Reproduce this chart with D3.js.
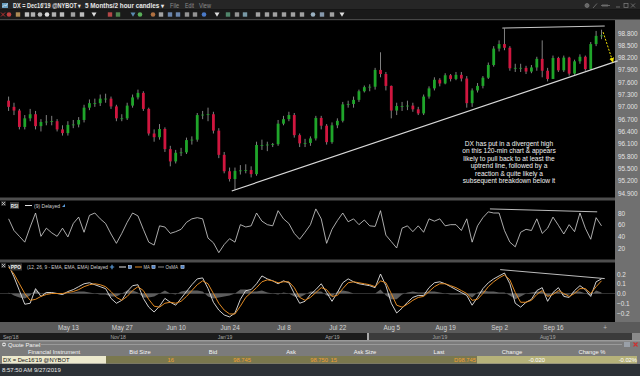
<!DOCTYPE html>
<meta charset="utf-8">
<script src="https://d3js.org/d3.v7.min.js"></script>
<style>
  body { margin: 0; background: #000; overflow: hidden; }
  svg { display: block; font-family: "Liberation Sans", Arial, sans-serif; }
</style>
<div id="my_chart"></div>
<script>
// DX Dec'19, one candle per trading day Apr 26 .. Sep 27 2019 (open = prior close)
const firstOpen = 97.15
const closes = [97.00,96.91,96.51,96.72,96.82,96.53,96.63,96.64,96.65,96.45,
  96.36,96.56,96.57,96.68,96.98,97.09,97.09,97.20,97.20,97.01,
  96.72,96.72,97.03,97.23,97.34,96.95,96.35,96.26,96.46,95.97,
  95.67,95.88,95.89,96.19,96.20,96.80,96.81,96.82,96.42,95.83,
  95.43,95.24,95.44,95.45,95.46,95.36,96.07,96.07,96.08,96.09,
  96.59,96.70,96.80,96.31,96.11,96.12,96.23,96.73,96.54,96.14,
  96.55,96.66,97.06,97.07,97.17,97.38,97.48,97.49,97.90,97.80,
  97.51,96.91,97.02,97.02,97.03,96.94,96.84,97.25,97.45,97.66,
  97.57,97.77,97.68,97.78,97.69,97.09,97.40,97.51,97.71,98.02,
  98.42,98.53,98.44,97.94,97.95,97.95,97.86,97.96,98.17,97.88,
  97.68,98.19,97.89,98.20,97.81,98.11,98.22,97.92,98.53,98.73,
  98.74]
const highs = [97.25,97.10,96.95,96.80,96.95,96.90,96.70,96.80,96.78,96.70,
  96.55,96.65,96.68,96.75,97.05,97.18,97.20,97.30,97.32,97.25,
  97.05,96.82,97.10,97.30,97.42,97.38,96.98,96.45,96.58,96.50,
  96.05,95.95,96.00,96.25,96.28,96.85,96.90,96.98,96.88,96.48,
  95.90,95.52,95.52,95.58,95.60,95.55,96.15,96.20,96.15,96.12,
  96.68,96.78,96.88,96.85,96.35,96.22,96.28,96.78,96.78,96.58,
  96.62,96.72,97.12,97.15,97.25,97.42,97.52,97.55,97.95,98.33,
  97.85,97.52,97.10,97.12,97.15,97.10,97.00,97.30,97.50,97.72,
  97.70,97.82,97.80,97.85,97.85,97.75,97.45,97.58,97.75,98.08,
  98.48,98.62,98.91,98.48,98.05,98.05,98.00,98.02,98.22,98.62,
  97.95,98.25,98.22,98.25,98.22,98.15,98.28,98.25,98.58,98.85,
  98.88]
const lows = [96.90,96.80,96.45,96.45,96.65,96.45,96.40,96.55,96.55,96.40,
  96.30,96.30,96.48,96.50,96.62,96.92,97.00,97.02,97.10,96.95,
  96.65,96.65,96.68,96.98,97.18,96.90,96.30,96.15,96.20,95.90,
  95.55,95.62,95.80,95.85,96.08,96.15,96.70,96.65,96.35,95.75,
  95.38,95.18,94.98,95.35,95.38,95.28,95.32,95.95,95.92,96.02,
  96.05,96.55,96.65,96.25,96.02,96.02,96.05,96.18,96.45,96.08,
  96.10,96.48,96.62,96.98,96.98,97.12,97.35,97.38,97.42,97.72,
  97.40,96.72,96.80,96.90,96.92,96.88,96.80,96.80,97.20,97.40,
  97.50,97.55,97.62,97.65,97.62,96.98,97.00,97.35,97.45,97.68,
  97.98,98.35,98.38,97.88,97.85,97.85,97.80,97.82,97.88,97.72,
  97.62,97.68,97.85,97.85,97.76,97.78,98.05,97.88,97.90,98.48,
  98.65]

const rsi9 = [70,50,40,30,56,80,40,54,46,40,
  54,39,62,73,47,76,80,70,62,44,
  28,45,64,80,75,52,30,25,58,56,
  45,48,52,64,70,72,70,37,29,12,
  26,36,30,60,56,58,80,66,60,58,
  84,70,62,45,35,47,60,87,70,28,
  52,67,80,65,70,60,68,58,57,84,
  42,31,20,54,58,48,58,47,70,66,
  70,58,60,60,50,70,30,58,72,82,
  80,80,50,30,22,47,52,50,70,45,
  54,73,59,44,60,48,80,54,35,72,
  58]

const ppoLine = [0.29,0.17,0.03,-0.11,-0.10,0.05,-0.03,0.01,0.01,0.00,
  -0.01,0.02,0.04,0.07,0.10,0.11,0.09,0.07,0.05,-0.05,
  -0.10,-0.07,0.02,0.08,0.09,-0.05,-0.14,-0.19,-0.13,-0.05,
  -0.09,-0.12,-0.05,0.02,0.09,0.15,0.16,0.05,-0.09,-0.17,
  -0.22,-0.24,-0.20,-0.06,0.03,0.04,0.10,0.18,0.15,0.13,
  0.10,0.13,0.11,0.00,-0.10,-0.08,-0.01,0.04,0.10,0.01,
  -0.08,0.01,0.11,0.15,0.12,0.10,0.09,0.08,0.06,0.20,
  0.08,-0.10,-0.20,-0.15,-0.09,-0.04,-0.02,-0.02,0.06,0.11,
  0.12,0.10,0.07,0.04,0.01,-0.02,-0.12,-0.04,0.05,0.11,
  0.15,0.18,0.21,0.10,-0.10,-0.14,-0.09,-0.06,0.03,0.06,
  -0.08,0.01,0.06,-0.03,-0.04,0.03,0.08,0.04,-0.03,0.12,
  0.15]
const ppoMA = [0.27,0.20,0.10,0.00,-0.07,-0.06,-0.03,-0.01,0.00,0.00,
  0.00,0.01,0.02,0.04,0.07,0.09,0.10,0.09,0.07,0.02,
  -0.04,-0.07,-0.03,0.03,0.07,0.03,-0.06,-0.13,-0.14,-0.10,
  -0.09,-0.10,-0.08,-0.03,0.03,0.09,0.13,0.10,0.00,-0.10,
  -0.17,-0.21,-0.21,-0.13,-0.04,0.01,0.06,0.12,0.14,0.13,
  0.11,0.12,0.12,0.06,-0.04,-0.07,-0.04,0.01,0.06,0.04,
  -0.03,-0.02,0.05,0.11,0.12,0.11,0.10,0.09,0.07,0.13,
  0.11,0.00,-0.12,-0.14,-0.11,-0.07,-0.04,-0.03,0.02,0.07,
  0.10,0.10,0.08,0.06,0.03,0.00,-0.07,-0.06,0.00,0.07,
  0.12,0.16,0.19,0.14,0.01,-0.09,-0.09,-0.07,-0.01,0.03,
  -0.03,-0.01,0.03,0.00,-0.03,0.00,0.05,0.05,0.00,0.07,
  0.13]
const ppoOsma = [0.01,-0.02,-0.04,-0.05,-0.02,0.04,0.00,0.01,0.00,0.00,
  -0.01,0.00,0.01,0.02,0.02,0.01,0.00,-0.01,-0.01,-0.03,
  -0.03,0.00,0.03,0.03,0.01,-0.04,-0.04,-0.03,0.00,0.03,
  0.00,-0.01,0.02,0.03,0.03,0.03,0.02,-0.03,-0.05,-0.04,
  -0.03,-0.02,0.00,0.04,0.04,0.02,0.02,0.03,0.01,0.00,
  -0.01,0.01,0.00,-0.03,-0.04,-0.01,0.02,0.02,0.02,-0.02,
  -0.03,0.02,0.03,0.02,0.00,0.00,0.00,0.00,0.00,0.04,
  -0.02,-0.06,-0.06,-0.01,0.01,0.02,0.01,0.01,0.02,0.02,
  0.01,0.00,-0.01,-0.01,-0.01,-0.01,-0.04,0.01,0.03,0.02,
  0.02,0.01,0.01,-0.02,-0.06,-0.03,0.00,0.01,0.02,0.02,
  -0.03,0.01,0.02,-0.02,-0.01,0.02,0.02,0.00,-0.02,0.03,
  0.01]

const priceTicks = [98.8,98.5,98.2,97.9,97.6,97.3,97.0,96.7,96.4,96.1,95.8,95.5,95.2,94.9]
const rsiTicks = [80, 60, 40, 20]
const ppoTicks = [0.2, 0.1, 0.0, -0.1, -0.2]
const dateTicks = ["2019-05-13","2019-05-27","2019-06-10","2019-06-24","2019-07-08",
  "2019-07-22","2019-08-05","2019-08-19","2019-09-02","2019-09-16"]
const navLabels = ["Sep'18","Nov'18","Jan'19","Apr'19","Jun'19","Aug'19"]

// drawn lines, as [day index, value]
const upperTrend = [[91.6, 98.92], [110.6, 98.97]]
const lowerTrend = [[41.4, 94.95], [113, 98.12]]
const pullback = [[110.3, 98.82], [112.1, 98.10]]
const rsiTrend = [[89.3, 87], [109.2, 82]]
const ppoTrend = [[91.2, 0.245], [110.6, 0.153]]

const note = ["DX has put in a divergent high", "on this 120-min chart & appears",
  "likely to pull back to at least the", "uptrend line, followed by a",
  "reaction & quite likely a", "subsequent breakdown below it"]

const quoteHeaders = ["Financial Instrument","Bid Size","Bid","Ask","Ask Size","Last","Change","Change %"]
const quoteRow = ["DX = Dec16'19 @NYBOT","16","98.745","98.750","15","D98.745","-0.020","-0.02%"]

// ------------------------------------------------------------------
const svg = d3.select("#my_chart").append("svg").attr("width", 640).attr("height", 376)
const box = (x0, y0, w, h, fill) => svg.append("rect")
  .attr("x", x0).attr("y", y0).attr("width", w).attr("height", h).attr("fill", fill)
// text squeezed to the width it has in the screenshot
const fitText = (g, tx, ty, s, len, size, col) => g.append("text").attr("x", tx).attr("y", ty)
  .attr("font-size", size).attr("fill", col).attr("textLength", len).attr("lengthAdjust", "spacingAndGlyphs").text(s)

const days = d3.timeDay.range(new Date(2019, 3, 26), new Date(2019, 8, 28)).filter(d => d.getDay() % 6 !== 0)
const fmtKey = d3.timeFormat("%Y-%m-%d")

const x = d3.scaleLinear().domain([0, days.length - 1]).range([8.6, 601.5])
const yP = d3.scaleLinear().domain([94.9, 98.8]).range([193, 33])
const yR = d3.scaleLinear().domain([20, 80]).range([248, 213])
const yQ = d3.scaleLinear().domain([-0.2, 0.2]).range([313, 274])

// window chrome
box(0, 0, 640, 376, "#000")
box(0, 0, 640, 9.5, "#262626")
box(0, 9.5, 640, 9.5, "#1a1a1a")
box(0, 19, 640, 1.2, "#474747")
box(615, 20, 25, 302, "#707070")
box(0, 197.5, 615, 3, "#4e4e4e")
box(0, 259.5, 615, 3, "#4e4e4e")

// title bar
box(2, 3, 6, 5, "#6a9fc0")
svg.append("path").attr("d", "M2.5,7 L4.5,5 L6,6 L7.5,3.5").attr("stroke", "#fff").attr("stroke-width", 0.6).attr("fill", "none")
const title = svg.append("g").attr("font-weight", "bold")
fitText(title, 13, 7.8, "DX = Dec16'19 @NYBOT \u25BE", 68, 6.4, "#e6e6e6")
fitText(title, 85, 7.8, "5 Months/2 hour candles \u25BE", 79, 6.4, "#e6e6e6")
const menu = svg.append("g")
fitText(menu, 170, 7.8, "File", 9, 6.4, "#8c8c8c")
fitText(menu, 185, 7.8, "Edit", 9, 6.4, "#8c8c8c")
fitText(menu, 199, 7.8, "View", 12, 6.4, "#8c8c8c")
const winBtns = svg.append("g").attr("stroke", "#777").attr("fill", "none").attr("stroke-width", 0.8)
winBtns.append("circle").attr("cx", 587).attr("cy", 5.5).attr("r", 2).attr("fill", "#666")
winBtns.append("path").attr("d", "M593,8 L597,3.5")
winBtns.append("path").attr("d", "M601,5.5 L610,5.5 M603,4 L603,7 M605,4 L605,7 M607,4 L607,7")
winBtns.append("path").attr("d", "M616,7 L620,7")
winBtns.append("rect").attr("x", 624).attr("y", 3.5).attr("width", 4).attr("height", 4)
winBtns.append("path").attr("d", "M631,3.5 L635,7.5 M635,3.5 L631,7.5")

// toolbar glyphs
const toolIcons = [[3,"x","#b83030"],[9,"c","#c04040"],[18,"r","#c8a060"],[27,"r","#ddd"],[33,"r","#ccc"],
  [40,"c","#bbb"],[47,"c","#ddd"],[54,"r","#ccc"],[62,"r","#ddd"],[73,"r","#bbb"],[82,"r","#ddd"],
  [94,"t","#ddd"],[110,"r","#d05050"],[118,"r","#5a9a5a"],[133,"t","#5a8ab0"],[140,"c","#5ab05a"],
  [153,"c","#b07040"],[161,"r","#bbb"],[170,"r","#7a9ac8"],[178,"r","#7a9ac8"],[187,"r","#aaa"],
  [195,"r","#aaa"],[204,"c","#4a7ac8"],[217,"t","#ddd"],[228,"r","#5a9a7a"],[237,"r","#aaa"],
  [245,"r","#8ab0c0"],[258,"r","#bbb"],[267,"r","#bbb"],[275,"r","#bbb"],[284,"r","#bbb"],
  [293,"r","#bbb"],[302,"r","#bbb"],[313,"c","#9ab0c0"],[322,"r","#9ab0c8"],[332,"r","#bbb"],[342,"t","#ddd"]]
const tb = svg.append("g")
toolIcons.forEach(([cx, shape, col]) => {
  if (shape === "r") tb.append("rect").attr("x", cx - 2.2).attr("y", 12.3).attr("width", 4.4).attr("height", 4.4).attr("fill", col).attr("opacity", 0.85)
  else if (shape === "c") tb.append("circle").attr("cx", cx).attr("cy", 14.5).attr("r", 2.3).attr("fill", col)
  else if (shape === "t") tb.append("path").attr("d", `M${cx-2.5},12.5 L${cx+2.5},12.5 L${cx},16.8 Z`).attr("fill", col)
  else tb.append("path").attr("d", `M${cx-2},12.5 L${cx+2},16.5 M${cx+2},12.5 L${cx-2},16.5`).attr("stroke", col).attr("stroke-width", 1)
})

// clip regions
const defs = svg.append("defs")
defs.append("clipPath").attr("id", "clipMain").append("rect").attr("x", 0).attr("y", 20.5).attr("width", 618).attr("height", 177)
defs.append("clipPath").attr("id", "clipRsi").append("rect").attr("x", 0).attr("y", 200.5).attr("width", 615).attr("height", 59)
defs.append("clipPath").attr("id", "clipPpo").append("rect").attr("x", 0).attr("y", 262.5).attr("width", 615).attr("height", 59.5)
defs.append("marker").attr("id", "arrowY").attr("viewBox", "0 0 10 10").attr("refX", 8).attr("refY", 5)
  .attr("markerWidth", 5).attr("markerHeight", 5).attr("orient", "auto")
  .append("path").attr("d", "M0,0 L10,5 L0,10 Z").attr("fill", "#f0e000")

// ---- price candles
const candles = closes.map((c, i) => ({ i, o: i ? closes[i - 1] : firstOpen, c, h: highs[i], l: lows[i] }))
const main = svg.append("g").attr("clip-path", "url(#clipMain)")
main.selectAll("line.wick").data(candles).join("line").attr("class", "wick")
  .attr("x1", d => x(d.i)).attr("x2", d => x(d.i))
  .attr("y1", d => yP(Math.max(d.h, d.o, d.c))).attr("y2", d => yP(Math.min(d.l, d.o, d.c)))
  .attr("stroke", "#b8b8b8").attr("stroke-width", 0.7)
main.selectAll("rect.body").data(candles).join("rect").attr("class", "body")
  .attr("x", d => x(d.i) - 1.4).attr("width", 2.8)
  .attr("y", d => yP(Math.max(d.o, d.c)))
  .attr("height", d => Math.max(0.8, Math.abs(yP(d.o) - yP(d.c))))
  .attr("fill", d => d.c >= d.o ? "#1fa52a" : "#d0163f")

const trend = d3.line().x(d => x(d[0])).y(d => yP(d[1]))
main.append("path").attr("d", trend(upperTrend)).attr("stroke", "#c8c8c8").attr("stroke-width", 1).attr("fill", "none")
main.append("path").attr("d", trend(lowerTrend)).attr("stroke", "#d8d8d8").attr("stroke-width", 1.2).attr("fill", "none")
main.append("path").attr("d", trend(pullback)).attr("stroke", "#f0e000").attr("stroke-width", 1)
  .attr("stroke-dasharray", "2,1.5").attr("fill", "none").attr("marker-end", "url(#arrowY)")

svg.append("g").selectAll("text").data(note).join("text")
  .attr("x", 509).attr("y", (d, i) => 146 + i * 7.4)
  .attr("text-anchor", "middle").attr("font-size", 6.6).attr("fill", "#f2f2f2").text(d => d)

// right axes
const styleAxis = g => {
  g.select(".domain").remove()
  g.selectAll("text").attr("fill", "#e2e2e2").attr("font-size", 6.4).attr("font-family", "Liberation Sans, Arial, sans-serif")
}
svg.append("g").attr("transform", "translate(615,0)")
  .call(d3.axisRight(yP).tickValues(priceTicks).tickFormat(d3.format(".3f")).tickSize(0).tickPadding(3))
  .call(styleAxis)
svg.append("g").attr("transform", "translate(615,0)")
  .call(d3.axisRight(yR).tickValues(rsiTicks).tickSize(0).tickPadding(3))
  .call(styleAxis)
svg.append("g").attr("transform", "translate(615,0)")
  .call(d3.axisRight(yQ).tickValues(ppoTicks).tickFormat(d3.format(".1f")).tickSize(0).tickPadding(2))
  .call(styleAxis)

// ---- RSI panel
const rsiG = svg.append("g").attr("clip-path", "url(#clipRsi)")
rsiG.append("path").datum(rsi9)
  .attr("d", d3.line().x((d, i) => x(i)).y(d => yR(d)))
  .attr("stroke", "#d6d6d6").attr("stroke-width", 0.8).attr("fill", "none")
rsiG.append("path").attr("d", d3.line().x(d => x(d[0])).y(d => yR(d[1]))(rsiTrend))
  .attr("stroke", "#cfcfcf").attr("stroke-width", 0.9).attr("fill", "none")

// ---- PPO panel
const ppoG = svg.append("g").attr("clip-path", "url(#clipPpo)")
ppoG.append("line").attr("x1", 0).attr("x2", 615).attr("y1", yQ(0)).attr("y2", yQ(0)).attr("stroke", "#3c3c3c").attr("stroke-width", 0.8)
ppoG.append("path").datum(ppoOsma)
  .attr("d", d3.area().x((d, i) => x(i)).y0(yQ(0)).y1(d => yQ(d)))
  .attr("fill", "#5c5c5c")
ppoG.append("path").datum(ppoLine)
  .attr("d", d3.line().x((d, i) => x(i)).y(d => yQ(d)))
  .attr("stroke", "#e4e4e4").attr("stroke-width", 0.9).attr("fill", "none")
ppoG.append("path").datum(ppoMA)
  .attr("d", d3.line().x((d, i) => x(i)).y(d => yQ(d)))
  .attr("stroke", "#e08a24").attr("stroke-width", 1).attr("fill", "none")
ppoG.append("path").attr("d", d3.line().x(d => x(d[0])).y(d => yQ(d[1]))(ppoTrend))
  .attr("stroke", "#d0d0d0").attr("stroke-width", 0.9).attr("fill", "none")

// legends: backgrounds first, then texts on top
const closeX = (cx, cy) => {
  box(cx - 2.5, cy - 2.5, 5, 5, "#2e2e2e")
  svg.append("path").attr("d", `M${cx-1.5},${cy-1.5} L${cx+1.5},${cy+1.5} M${cx+1.5},${cy-1.5} L${cx-1.5},${cy+1.5}`)
    .attr("stroke", "#ddd").attr("stroke-width", 0.7)
}
const smallBtn = (cx, cy) => svg.append("rect").attr("x", cx - 1.6).attr("y", cy - 1.6).attr("width", 3.2).attr("height", 3.2)
  .attr("fill", "#4a7fc8").attr("stroke", "#dfe8f4").attr("stroke-width", 0.5)

closeX(3.5, 203.5)
closeX(3.5, 265.5)
box(10, 202, 9, 7, "#363636")
box(10, 263.5, 12, 7, "#363636")
const leg = svg.append("g")
const legBold = svg.append("g").attr("font-weight", "bold")

fitText(legBold, 10.8, 207.6, "RSI", 7.4, 5.4, "#f0f0f0")
svg.append("line").attr("x1", 25).attr("x2", 32).attr("y1", 205.5).attr("y2", 205.5).attr("stroke", "#e0e0e0").attr("stroke-width", 1)
fitText(leg, 34, 207.6, "(9) Delayed", 26, 5.4, "#cfcfcf")
svg.append("path").attr("d", "M62,207 L65,207 L65,204 Z").attr("fill", "#5a9ad8")

fitText(legBold, 10.8, 269, "PPO", 10.4, 5.4, "#f0f0f0")
fitText(leg, 27, 269, "(12, 26, 9 - EMA, EMA, EMA) Delayed", 81, 5.4, "#cfcfcf")
svg.append("path").attr("d", "M112,264.8 L112,269.2 M109.8,267 L114.2,267").attr("stroke", "#5a9ad8").attr("stroke-width", 1.2)
svg.append("line").attr("x1", 119).attr("x2", 126).attr("y1", 267).attr("y2", 267).attr("stroke", "#e6e6e6").attr("stroke-width", 1)
smallBtn(130, 267)
svg.append("line").attr("x1", 135).attr("x2", 142).attr("y1", 267).attr("y2", 267).attr("stroke", "#e08a24").attr("stroke-width", 1)
fitText(leg, 143.5, 269, "MA", 6.5, 5.4, "#cfcfcf")
smallBtn(153.5, 267)
svg.append("line").attr("x1", 158).attr("x2", 164).attr("y1", 267).attr("y2", 267).attr("stroke", "#8a8a8a").attr("stroke-width", 1)
fitText(leg, 165.5, 269, "OsMA", 12.5, 5.4, "#cfcfcf")
smallBtn(182.5, 267)

// ---- date axis
box(0, 322, 640, 11, "#5a5a5a")
const tickIdx = dateTicks.map(s => days.findIndex(d => fmtKey(d) === s))
svg.append("g").attr("transform", "translate(0,322)")
  .call(d3.axisBottom(x).tickValues(tickIdx).tickFormat(i => d3.timeFormat("%b %-d")(days[i])).tickSize(0).tickPadding(3.2))
  .call(g => {
    g.select(".domain").remove()
    g.selectAll("text").attr("fill", "#d4d4d4").attr("font-size", 6.4).attr("font-family", "Liberation Sans, Arial, sans-serif")
  })
svg.append("text").attr("x", 605).attr("y", 330).attr("text-anchor", "middle").attr("font-size", 6.4).attr("fill", "#bbb").text("+")

// navigator strip
box(0, 333, 640, 7, "#1c1c1c")
box(368, 333, 264, 7, "#3b3b3b")
box(367, 333, 2, 7, "#a8a8a8")
box(632, 333, 8, 7, "#8a8a8a")
const nav = d3.scalePoint().domain(navLabels).range([3, 540])
svg.append("g").selectAll("text").data(navLabels).join("text")
  .attr("x", d => nav(d)).attr("y", 338.8).attr("font-size", 5).attr("fill", "#a8a8a8").text(d => d)

// ---- quote panel
box(0, 340, 640, 24, "#7b7b7b")
box(0, 340, 640, 1.5, "#9a9a9a")
svg.append("circle").attr("cx", 4).attr("cy", 344.5).attr("r", 2).attr("fill", "#ddd")
svg.append("line").attr("x1", 2.8).attr("x2", 5.2).attr("y1", 344.5).attr("y2", 344.5).attr("stroke", "#555").attr("stroke-width", 0.7)
svg.append("text").attr("x", 8).attr("y", 346.5).attr("font-size", 5.8).attr("fill", "#f4f4f4").text("Quote Panel")
svg.append("line").attr("x1", 41).attr("x2", 622).attr("y1", 344.5).attr("y2", 344.5).attr("stroke", "#a8a8a8").attr("stroke-width", 0.7)
box(624, 342, 6, 5, "#9aa0a8")
svg.append("path").attr("d", "M633.5,342.5 L637.5,346.5 M637.5,342.5 L633.5,346.5").attr("stroke", "#d03030").attr("stroke-width", 1.1)

const headerX = [54, 140, 213, 291, 365, 439, 512, 592]
svg.append("g").selectAll("text").data(quoteHeaders).join("text")
  .attr("x", (d, i) => headerX[i]).attr("y", 353.6).attr("text-anchor", "middle")
  .attr("font-size", 5.8).attr("fill", "#f4f4f4").text(d => d)

box(2, 356, 104, 7.5, "#ece9cd")
box(106, 356, 371, 7.5, "#7a784e")
box(477, 356, 160, 7.5, "#b6b27a")
const rowEnd = [null, 174, 251, 328, 337, 476, 545, 637]
const rowCol = [null, "#f0a030", "#f0a030", "#f0a030", "#f0a030", "#f0a030", "#ffffff", "#ffffff"]
svg.append("text").attr("x", 3).attr("y", 361.8).attr("font-size", 5.8).attr("fill", "#111").text(quoteRow[0])
svg.append("g").selectAll("text").data(quoteRow.slice(1)).join("text")
  .attr("x", (d, i) => rowEnd[i + 1]).attr("y", 361.8).attr("text-anchor", "end")
  .attr("font-size", 5.8).attr("fill", (d, i) => rowCol[i + 1]).text(d => d)

// status bar
box(0, 364, 640, 12, "#2c3136")
svg.append("text").attr("x", 2).attr("y", 372).attr("font-size", 6).attr("fill", "#e8e8e8").text("8:57:50 AM 9/27/2019")
</script>
